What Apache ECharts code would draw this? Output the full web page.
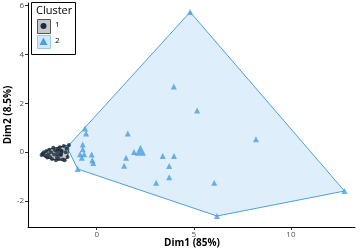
<!DOCTYPE html>
<html><head><meta charset="utf-8">
<script src="https://cdn.jsdelivr.net/npm/echarts@6/dist/echarts.min.js"></script>
<style>html,body{margin:0;padding:0;background:#fff}#c{width:361px;height:252px}</style>
</head><body><div id="c"></div>
<script>
// Cluster 1 points (Dim1, Dim2)
const cluster1 = [[-2.84,-0.12],[-2.78,-0.05],[-2.72,0.0],[-2.65,-0.15],[-2.6,0.05],[-2.55,-0.22],[-2.5,-0.08],[-2.45,0.1],[-2.4,-0.2],[-2.35,0.0],[-2.3,-0.28],[-2.24,0.18],[-2.2,-0.1],[-2.15,0.08],[-2.1,-0.33],[-2.05,-0.2],[-2.0,0.12],[-1.95,-0.28],[-1.9,0.2],[-1.85,-0.12],[-1.8,0.05],[-1.75,-0.3],[-1.7,0.25],[-1.65,-0.33],[-1.6,0.0],[-1.55,0.15],[-1.5,-0.2],[-1.43,0.29]];
const cluster1Center = [[-1.93,-0.01]];
const cluster1Hull = [[-2.84,-0.12],[-2.45,0.12],[-2.0,0.2],[-1.43,0.29],[-1.5,-0.2],[-1.65,-0.33],[-2.3,-0.3],[-2.6,-0.22]];
// Cluster 2 points
const cluster2 = [[-1.53,0.20],[-0.60,0.97],[-0.55,0.76],[1.60,0.76],[-0.72,0.31],[-0.72,0.12],[-0.86,-0.08],[-0.65,-0.08],[-0.77,-0.23],[-0.26,-0.10],[-0.23,-0.33],[-0.18,-0.44],[-0.98,-0.69],[1.92,0.01],[1.51,-0.23],[1.41,-0.56],[3.40,-0.16],[3.98,-0.16],[3.73,-0.57],[3.73,-1.03],[3.06,-1.25],[3.97,2.69],[5.17,1.70],[8.20,0.53],[6.05,-1.25],[4.81,5.73],[12.76,-1.59],[6.19,-2.61]];
const cluster2Center = [[2.25,0.08]];
const cluster2Hull = [[-1.53,0.20],[4.81,5.73],[12.76,-1.59],[6.19,-2.61],[-0.98,-0.69]];
const xTicks = [0,5,10];
const yTicks = [-2,0,2,4,6];
const xTitle = 'Dim1 (85%)';
const yTitle = 'Dim2 (8.5%)';
const legendTitle = 'Cluster';
const legendLabels = ['1','2'];

const C1 = '#1c2a3a', C1F = 'rgba(150,158,168,0.55)';
const C2 = '#4a9fe0', C2F = 'rgba(190,222,248,0.5)';
const FONT = 'Open Sans';

function hullSeries(pts, stroke, fill){
  return {
    type:'custom', silent:true,
    data:[0],
    renderItem:function(params, api){
      const points = pts.map(p=>api.coord(p));
      return {type:'polygon', shape:{points}, style:{fill:fill, stroke:stroke, lineWidth:1}};
    }, z:1
  };
}

const chart = echarts.init(document.getElementById('c'), null, {renderer:'canvas'});
chart.setOption({
  animation:false,
  grid:{left:28,right:6,top:3,bottom:25,containLabel:false,outerBoundsMode:'none'},
  xAxis:{type:'value',min:-3.54,max:13.3,
    axisLine:{show:true,onZero:false,lineStyle:{color:'#000',width:1}},
    axisTick:{show:true,length:3,lineStyle:{color:'#333'},customValues:xTicks},
    axisLabel:{fontFamily:FONT,fontSize:8,color:'#4d4d4d',margin:4,customValues:xTicks,hideOverlap:false,showMaxLabel:true,showMinLabel:true},
    splitLine:{show:false}},
  yAxis:{type:'value',min:-3.06,max:6.1,
    axisLine:{show:true,onZero:false,lineStyle:{color:'#000',width:1}},
    axisTick:{show:true,length:3,lineStyle:{color:'#333'},customValues:yTicks},
    axisLabel:{fontFamily:FONT,fontSize:8,color:'#4d4d4d',margin:4,customValues:yTicks,hideOverlap:false,showMaxLabel:true,showMinLabel:true},
    splitLine:{show:false}},
  series:[
    hullSeries(cluster2Hull, C2, C2F),
    hullSeries(cluster1Hull, C1, C1F),
    {type:'scatter',data:cluster2,symbol:'triangle',symbolSize:6,itemStyle:{color:C2},z:3},
    {type:'scatter',data:cluster2Center,symbol:'triangle',symbolSize:11,itemStyle:{color:C2},z:3},
    {type:'scatter',data:cluster1,symbol:'circle',symbolSize:4,itemStyle:{color:C1},z:4},
    {type:'scatter',data:cluster1Center,symbol:'circle',symbolSize:8,itemStyle:{color:C1},z:4}
  ],
  graphic:[
    {type:'text',x:192,y:243,style:{text:xTitle,fontFamily:FONT,fontSize:10,fontWeight:'bold',fill:'#000',align:'center',verticalAlign:'middle'},z:11},
    {type:'text',x:8,y:115,rotation:Math.PI/2,style:{text:yTitle,fontFamily:FONT,fontSize:10,fontWeight:'bold',fill:'#000',align:'center',verticalAlign:'middle'},z:11},
    {type:'rect',left:31,top:2,shape:{width:44,height:52},style:{fill:'#fff',stroke:'#000',lineWidth:1},z:10},
    {type:'text',left:36,top:5,style:{text:legendTitle,fontFamily:FONT,fontSize:11,fill:'#000'},z:11},
    {type:'rect',left:37,top:19,shape:{width:13,height:14},style:{fill:'#c4c9cf',stroke:'#555',lineWidth:1},z:11},
    {type:'circle',shape:{cx:43.5,cy:26,r:3},style:{fill:C1},z:12},
    {type:'text',left:55,top:21,style:{text:legendLabels[0],fontFamily:FONT,fontSize:8,fill:'#000'},z:11},
    {type:'rect',left:37,top:35,shape:{width:13,height:13},style:{fill:'#d5e8f9',stroke:'#9cc8ef',lineWidth:1},z:11},
    {type:'polygon',shape:{points:[[43.5,37.5],[47.5,45],[39.5,45]]},style:{fill:C2},z:12},
    {type:'text',left:55,top:37,style:{text:legendLabels[1],fontFamily:FONT,fontSize:8,fill:'#000'},z:11}
  ]
});
</script></body></html>
